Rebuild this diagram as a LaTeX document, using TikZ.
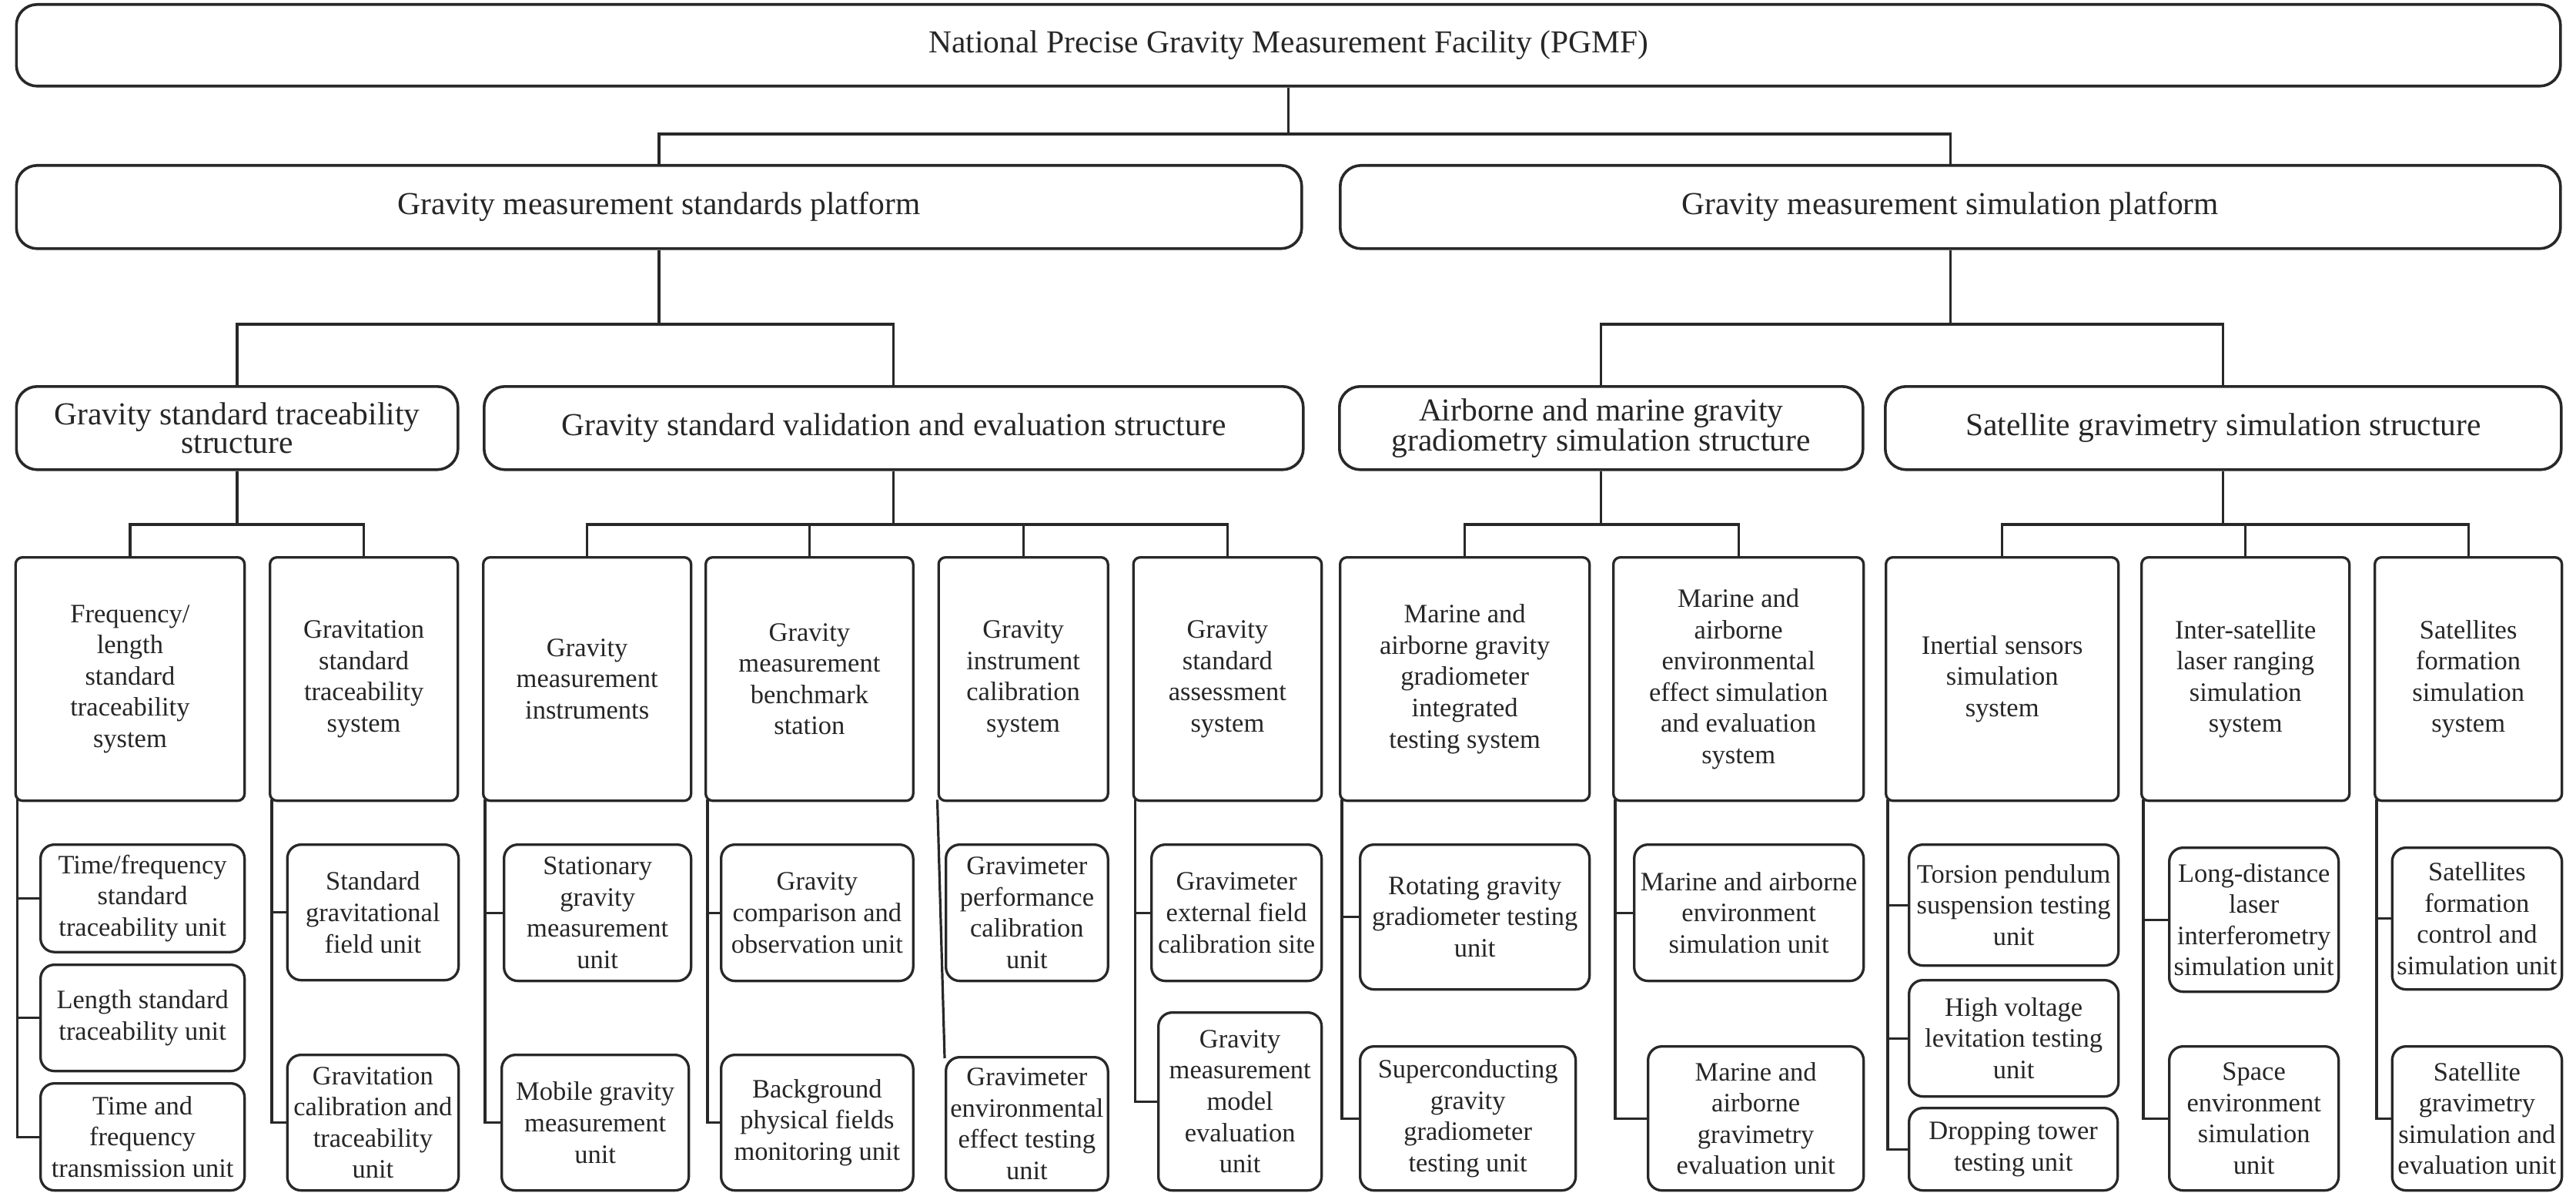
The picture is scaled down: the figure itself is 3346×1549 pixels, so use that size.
\documentclass[tikz,border=0pt]{standalone}
\usepackage{fontspec}
\setmainfont{Liberation Serif}
\definecolor{ln}{RGB}{40,40,40}
\definecolor{tx}{RGB}{38,38,38}
\newcommand\mybox[7]{\node[#6, minimum width=#4pt-#2pt, minimum height=#5pt-#3pt, anchor=north west] (#1) at (#2pt,-#3pt) {#7};}
\begin{document}
\begin{tikzpicture}[
 lvbox/.style={draw=ln, line width=3.6pt, rounded corners=27pt, inner sep=0pt, align=center, font=\fontsize{41.5}{37}\selectfont, text=tx},
 sysbox/.style={draw=ln, line width=3.3pt, rounded corners=9pt, inner sep=0pt, align=center, font=\fontsize{34.5}{40.6}\selectfont, text=tx},
 unitbox/.style={draw=ln, line width=3.3pt, rounded corners=18pt, inner sep=0pt, align=center, font=\fontsize{34.5}{40.6}\selectfont, text=tx},
 conn/.style={draw=ln, line width=3.2pt},
]
\useasboundingbox[fill=white] (0pt,0pt) rectangle (3346pt,-1549pt);
% level 1
\mybox{top}{19.5}{4}{3324}{110}{lvbox}{National Precise Gravity Measurement Facility (PGMF)}
% level 2
\mybox{std}{19.5}{213}{1689}{321}{lvbox}{Gravity measurement standards platform}
\mybox{sim}{1739}{213}{3324}{321}{lvbox}{Gravity measurement simulation platform}
% level 3
\mybox{gst}{19.5}{500}{593}{608}{lvbox}{Gravity standard traceability\\structure}
\mybox{gsv}{627}{500}{1691}{608}{lvbox}{Gravity standard validation and evaluation structure}
\mybox{amg}{1738}{500}{2418}{608}{lvbox}{Airborne and marine gravity\\gradiometry simulation structure}
\mybox{sgs}{2447}{500}{3325}{608}{lvbox}{Satellite gravimetry simulation structure}
% level 4
\mybox{A}{18.6}{722}{316}{1038}{sysbox}{Frequency/\\length\\standard\\traceability\\system}
\mybox{B}{349}{722}{593}{1038}{sysbox}{Gravitation\\standard\\traceability\\system}
\mybox{C}{626}{722}{896}{1038}{sysbox}{Gravity\\measurement\\instruments}
\mybox{D}{915}{722}{1184.5}{1038}{sysbox}{Gravity\\measurement\\benchmark\\station}
\mybox{E}{1217.5}{722}{1437.5}{1038}{sysbox}{Gravity\\instrument\\calibration\\system}
\mybox{F}{1470.5}{722}{1715}{1038}{sysbox}{Gravity\\standard\\assessment\\system}
\mybox{G}{1739}{722}{2063}{1038}{sysbox}{Marine and\\airborne gravity\\gradiometer\\integrated\\testing system}
\mybox{H}{2094}{722}{2419}{1038}{sysbox}{Marine and\\airborne\\environmental\\effect simulation\\and evaluation\\system}
\mybox{I}{2448}{722}{2750}{1038}{sysbox}{Inertial sensors\\simulation\\system}
\mybox{J}{2780}{722}{3050}{1038}{sysbox}{Inter-satellite\\laser ranging\\simulation\\system}
\mybox{K}{3083}{722}{3326}{1038}{sysbox}{Satellites\\formation\\simulation\\system}
% units
\mybox{A1}{51}{1095}{316}{1234.5}{unitbox}{Time/frequency\\standard\\traceability unit}
\mybox{A2}{51}{1251}{316}{1389}{unitbox}{Length standard\\traceability unit}
\mybox{A3}{51}{1405}{316}{1544}{unitbox}{Time and\\frequency\\transmission unit}
\mybox{B1}{371.5}{1095}{594}{1271}{unitbox}{Standard\\gravitational\\field unit}
\mybox{B2}{371.5}{1368}{594}{1544}{unitbox}{Gravitation\\calibration and\\traceability\\unit}
\mybox{C1}{653}{1095}{896}{1272}{unitbox}{Stationary\\gravity\\measurement\\unit}
\mybox{C2}{650}{1368}{893}{1544}{unitbox}{Mobile gravity\\measurement\\unit}
\mybox{D1}{935}{1095}{1184.5}{1272}{unitbox}{Gravity\\comparison and\\observation unit}
\mybox{D2}{935}{1368}{1184.5}{1544}{unitbox}{Background\\physical fields\\monitoring unit}
\mybox{E1}{1227}{1095}{1437.5}{1272}{unitbox}{Gravimeter\\performance\\calibration\\unit}
\mybox{E2}{1227}{1371}{1437.5}{1544}{unitbox}{Gravimeter\\environmental\\effect testing\\unit}
\mybox{F1}{1494}{1095}{1715}{1272}{unitbox}{Gravimeter\\external field\\calibration site}
\mybox{F2}{1503}{1313}{1715}{1544}{unitbox}{Gravity\\measurement\\model\\evaluation\\unit}
\mybox{G1}{1765}{1095}{2063}{1283}{unitbox}{Rotating gravity\\gradiometer testing\\unit}
\mybox{G2}{1765}{1357}{2045}{1544}{unitbox}{Superconducting\\gravity\\gradiometer\\testing unit}
\mybox{H1}{2121}{1095}{2419}{1272}{unitbox}{Marine and airborne\\environment\\simulation unit}
\mybox{H2}{2139}{1357}{2419}{1544}{unitbox}{Marine and\\airborne\\gravimetry\\evaluation unit}
\mybox{I1}{2478}{1095}{2750}{1252}{unitbox}{Torsion pendulum\\suspension testing\\unit}
\mybox{I2}{2478}{1271}{2750}{1422}{unitbox}{High voltage\\levitation testing\\unit}
\mybox{I3}{2478}{1437}{2749}{1544}{unitbox}{Dropping tower\\testing unit}
\mybox{J1}{2816}{1099}{3036}{1286}{unitbox}{Long-distance\\laser\\interferometry\\simulation unit}
\mybox{J2}{2816}{1357}{3036}{1544}{unitbox}{Space\\environment\\simulation\\unit}
\mybox{K1}{3105.5}{1099}{3326}{1283}{unitbox}{Satellites\\formation\\control and\\simulation unit}
\mybox{K2}{3105.5}{1357}{3326}{1544}{unitbox}{Satellite\\gravimetry\\simulation and\\evaluation unit}
% bar levels
\coordinate (ya) at (0pt,-174pt);
\coordinate (yb) at (0pt,-421pt);
\coordinate (yc) at (0pt,-681pt);
% level 1 -> 2
\draw[conn] (top.south) -- (top.south |- ya);
\draw[conn] (std.north) |- (sim.north |- ya) -- (sim.north);
% level 2 -> 3
\draw[conn] (std.south) -- (std.south |- yb);
\draw[conn] (gst.north) |- (gsv.north |- yb) -- (gsv.north);
\draw[conn] (sim.south) -- (sim.south |- yb);
\draw[conn] (amg.north) |- (sgs.north |- yb) -- (sgs.north);
% level 3 -> 4
\draw[conn] (gst.south) -- (gst.south |- yc);
\draw[conn] (A.north) |- (B.north |- yc) -- (B.north);
\draw[conn] (gsv.south) -- (gsv.south |- yc);
\draw[conn] (C.north) |- (F.north |- yc) -- (F.north);
\draw[conn] (D.north) -- (D.north |- yc);
\draw[conn] (E.north) -- (E.north |- yc);
\draw[conn] (amg.south) -- (amg.south |- yc);
\draw[conn] (G.north) |- (H.north |- yc) -- (H.north);
\draw[conn] (sgs.south) -- (sgs.south |- yc);
\draw[conn] (I.north) |- (K.north |- yc) -- (K.north);
\draw[conn] (J.north) -- (J.north |- yc);
% level 4 -> units
\draw[conn] ([xshift=4pt,yshift=3pt]A.south west) |- (A3.west);
\draw[conn] ([xshift=4pt]A.south west) |- (A1.west);
\draw[conn] ([xshift=4pt]A.south west) |- (A2.west);
\draw[conn] ([xshift=4pt,yshift=3pt]B.south west) |- (B2.west);
\draw[conn] ([xshift=4pt]B.south west) |- (B1.west);
\draw[conn] ([xshift=4pt,yshift=3pt]C.south west) |- (C2.west);
\draw[conn] ([xshift=4pt]C.south west) |- (C1.west);
\draw[conn] ([xshift=4pt,yshift=3pt]D.south west) |- (D2.west);
\draw[conn] ([xshift=4pt]D.south west) |- (D1.west);
\draw[conn] ([yshift=3pt]E.south west) -- ([yshift=-3pt]E2.north west);
\draw[conn] ([xshift=4pt,yshift=3pt]F.south west) |- (F2.west);
\draw[conn] ([xshift=4pt]F.south west) |- (F1.west);
\draw[conn] ([xshift=4pt,yshift=3pt]G.south west) |- (G2.west);
\draw[conn] ([xshift=4pt]G.south west) |- (G1.west);
\draw[conn] ([xshift=4pt,yshift=3pt]H.south west) |- (H2.west);
\draw[conn] ([xshift=4pt]H.south west) |- (H1.west);
\draw[conn] ([xshift=4pt,yshift=3pt]I.south west) |- (I3.west);
\draw[conn] ([xshift=4pt]I.south west) |- (I1.west);
\draw[conn] ([xshift=4pt]I.south west) |- (I2.west);
\draw[conn] ([xshift=4pt,yshift=3pt]J.south west) |- (J2.west);
\draw[conn] ([xshift=4pt]J.south west) |- (J1.west);
\draw[conn] ([xshift=4pt,yshift=3pt]K.south west) |- (K2.west);
\draw[conn] ([xshift=4pt]K.south west) |- (K1.west);
\end{tikzpicture}
\end{document}
